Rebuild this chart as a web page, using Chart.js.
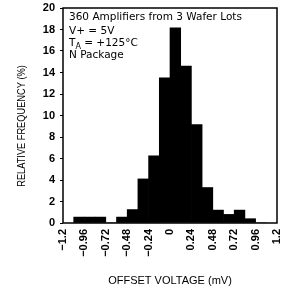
<!DOCTYPE html>
<html>
<head>
<meta charset="utf-8">
<script src="https://cdn.jsdelivr.net/npm/chart.js@4/dist/chart.umd.min.js"></script>
<style>
  html, body { margin: 0; padding: 0; background: #fff; }
  #wrap { width: 283px; height: 293px; }
</style>
</head>
<body>
<div id="wrap"><canvas id="hist"></canvas></div>
<script>
'use strict';

// bin centres (mV), bins are 0.12 mV wide
let binCenters = [-1.02, -0.90, -0.78, -0.66, -0.54, -0.42, -0.30, -0.18, -0.06,
                  0.06, 0.18, 0.30, 0.42, 0.54, 0.66, 0.78, 0.90, 1.02];
// relative frequency (%)
let freqValues = [0.55, 0.55, 0.55, 0, 0.55, 1.25, 4.1, 6.25, 13.5,
                  18.15, 14.6, 9.15, 3.3, 1.2, 0.8, 1.2, 0.4, 0];
let xTickLabels = ['\u22121.2', '\u22120.96', '\u22120.72', '\u22120.48', '\u22120.24', '0',
                   '0.24', '0.48', '0.72', '0.96', '1.2'];
let yTickLabels = ['0', '2', '4', '6', '8', '10', '12', '14', '16', '18', '20'];
let noteLines = ['360 Amplifiers from 3 Wafer Lots', 'V+ = 5V', 'T|A| = +125\u00B0C', 'N Package'];

Chart.defaults.font.family = '"Liberation Sans", Arial, sans-serif';
Chart.defaults.color = '#000';

let points = binCenters.map((x, i) => ({ x: x, y: freqValues[i] }));

// frame, y title and the note box
let extras = {
  id: 'extras',
  afterDraw(chart) {
    let ctx = chart.ctx;
    let a = chart.chartArea;
    ctx.save();
    ctx.strokeStyle = '#000';
    ctx.lineWidth = 1.5;
    ctx.strokeRect(a.left, a.top, a.right - a.left, a.bottom - a.top);

    // y axis title, squeezed a bit like the original plotter lettering
    ctx.translate(22, 126);
    ctx.rotate(-Math.PI / 2);
    ctx.scale(0.84, 1);
    ctx.font = '11px "Liberation Sans", sans-serif';
    ctx.fillStyle = '#000';
    ctx.textAlign = 'center';
    ctx.textBaseline = 'middle';
    ctx.fillText('RELATIVE FREQUENCY (%)', 0, 0);
    ctx.restore();

    ctx.save();
    ctx.fillStyle = '#000';
    ctx.textBaseline = 'alphabetic';
    ctx.textAlign = 'left';
    let big = '10.5px "DejaVu Sans", sans-serif';
    let small = '8px "DejaVu Sans", sans-serif';
    let x0 = a.left + 6;
    let y0 = a.top + 12;
    noteLines.forEach((line, i) => {
      let y = y0 + i * 12.3 + (i > 0 ? 1.5 : 0);
      ctx.font = big;
      if (line.indexOf('|') < 0) {
        ctx.fillText(line, x0, y);
        return;
      }
      let parts = line.split('|');
      ctx.fillText(parts[0], x0, y);
      let x = x0 + ctx.measureText(parts[0]).width;
      ctx.font = small;
      ctx.fillText(parts[1], x, y + 3);
      x += ctx.measureText(parts[1]).width;
      ctx.font = big;
      ctx.fillText(parts[2], x, y);
    });
    ctx.restore();
  }
};

new Chart(document.getElementById('hist'), {
  type: 'bar',
  data: {
    datasets: [{
      data: points,
      backgroundColor: '#000',
      borderWidth: 0,
      barPercentage: 1,
      categoryPercentage: 1
    }]
  },
  options: {
    responsive: true,
    maintainAspectRatio: false,
    animation: false,
    layout: { padding: { left: 0, right: 6, top: 8, bottom: 0 } },
    plugins: { legend: { display: false }, tooltip: { enabled: false } },
    scales: {
      x: {
        type: 'linear',
        min: -1.2,
        max: 1.2,
        offset: false,
        grid: { display: true, drawOnChartArea: false, drawTicks: false, offset: false },
        border: { display: false },
        ticks: {
          stepSize: 0.24,
          autoSkip: false,
          minRotation: 90,
          maxRotation: 90,
          padding: 6,
          font: { size: 11, weight: 'bold' },
          callback: (v, i) => xTickLabels[i]
        },
        title: {
          display: true,
          text: 'OFFSET VOLTAGE (mV)',
          font: { size: 11, lineHeight: 1 },
          padding: { top: 0, bottom: 7 }
        },
        afterFit(scale) {
          scale.height = 70;
          scale.paddingLeft = 0;
          scale.paddingRight = 0;
        }
      },
      y: {
        min: 0,
        max: 20,
        grid: { display: true, drawOnChartArea: false, tickLength: 3, color: '#000', lineWidth: 1 },
        border: { display: false },
        ticks: {
          stepSize: 2,
          padding: 5,
          font: { size: 11, weight: 'bold' },
          callback: (v, i) => yTickLabels[i]
        },
        afterFit(scale) {
          scale.width = 63;
          scale.paddingTop = 0;
          scale.paddingBottom = 0;
        }
      }
    }
  },
  plugins: [extras]
});
</script>
</body>
</html>
